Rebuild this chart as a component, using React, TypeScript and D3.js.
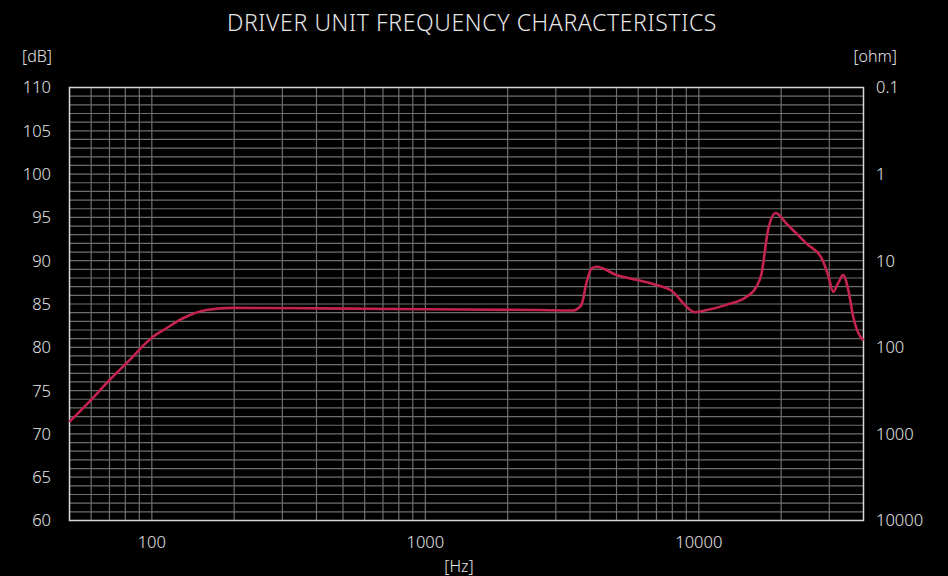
import React, { useEffect, useRef } from "react";
import * as d3 from "d3";

// frequency response (Hz, dB)
const freqs = [50, 59, 70, 81, 100, 113, 130, 158, 198, 410, 1000, 2600, 3470, 3720, 3880, 4050, 4230, 5000, 5900, 7000, 8050, 8760, 9670, 10700, 12600, 14900, 16250, 16950, 17900, 19100, 20900, 24700, 28100, 29700, 31000, 32300, 33700, 35200, 36700, 39400, 40000];
const levels = [71.4, 73.7, 76.2, 78.2, 81.1, 82.2, 83.35, 84.3, 84.55, 84.5, 84.4, 84.3, 84.25, 84.9, 87.4, 89.1, 89.3, 88.35, 87.8, 87.2, 86.4, 85.1, 84.05, 84.3, 84.9, 85.8, 87.0, 88.5, 93.5, 95.5, 94.3, 92.0, 90.3, 88.35, 86.4, 87.4, 88.35, 86.6, 83.5, 81.0, 80.8];

const dbTicks = [60, 65, 70, 75, 80, 85, 90, 95, 100, 105, 110];
const ohmTicks = [0.1, 1, 10, 100, 1000, 10000];
const hzTicks = [100, 1000, 10000];
const title = "DRIVER UNIT FREQUENCY CHARACTERISTICS";

const W = 948, H = 576;
const margin = { top: 87.5, right: 84.5, bottom: 55.5, left: 69.5 };
const font = "'Noto Sans', 'Open Sans', sans-serif";

export default function App() {
  const ref = useRef<SVGSVGElement>(null);

  useEffect(() => {
    const svg = d3.select(ref.current);
    svg.selectAll("*").remove();

    const x = d3.scaleLog().domain([50, 40000]).range([margin.left, W - margin.right]);
    const y = d3.scaleLinear().domain([60, 110]).range([H - margin.bottom, margin.top]);
    const yOhm = d3.scaleLog().domain([10000, 0.1]).range([H - margin.bottom, margin.top]);

    svg.append("rect").attr("width", W).attr("height", H).attr("fill", "#000");

    // grid
    const grid = svg.append("g").attr("stroke", "#6e6e6e").attr("stroke-width", 1.2);
    const vLines: number[] = [];
    for (let dec = 10; dec <= 10000; dec *= 10) {
      for (let m = 1; m <= 9; m++) {
        const f = dec * m;
        if (f > 50 && f < 40000) vLines.push(f);
      }
    }
    grid.selectAll("line.v").data(vLines).join("line")
      .attr("x1", d => x(d)).attr("x2", d => x(d))
      .attr("y1", margin.top).attr("y2", H - margin.bottom);
    grid.selectAll("line.h").data(d3.range(61, 110)).join("line")
      .attr("y1", d => y(d)).attr("y2", d => y(d))
      .attr("x1", margin.left).attr("x2", W - margin.right);

    // frame
    svg.append("rect")
      .attr("x", margin.left).attr("y", margin.top)
      .attr("width", W - margin.left - margin.right)
      .attr("height", H - margin.top - margin.bottom)
      .attr("fill", "none").attr("stroke", "#d8d8d8").attr("stroke-width", 1.5);

    // curve
    const line = d3.line<number>()
      .x((_, i) => x(freqs[i]))
      .y(d => y(d))
      .curve(d3.curveMonotoneX);
    svg.append("path")
      .datum(levels)
      .attr("d", line)
      .attr("fill", "none")
      .attr("stroke", "#c4234f")
      .attr("stroke-width", 2.6)
      .attr("stroke-linejoin", "round");

    const txt = svg.append("g").attr("fill", "#e6e6e6").attr("font-family", font).attr("font-weight", 300);

    txt.selectAll("text.db").data(dbTicks).join("text")
      .attr("x", 51).attr("y", d => y(d)).attr("dy", "0.36em")
      .attr("text-anchor", "end").attr("font-size", 16.5)
      .text(d => d);

    txt.selectAll("text.ohm").data(ohmTicks).join("text")
      .attr("x", 876).attr("y", d => yOhm(d)).attr("dy", "0.36em")
      .attr("font-size", 16.5)
      .text(d => String(d));

    txt.selectAll("text.hz").data(hzTicks).join("text")
      .attr("x", d => x(d)).attr("y", 548)
      .attr("text-anchor", "middle").attr("font-size", 16.5)
      .text(d => d);

    txt.append("text").attr("x", 22).attr("y", 62).attr("font-size", 16).text("[dB]");
    txt.append("text").attr("x", 897).attr("y", 62).attr("text-anchor", "end").attr("font-size", 16).text("[ohm]");
    txt.append("text").attr("x", 459).attr("y", 572).attr("text-anchor", "middle").attr("font-size", 16).text("[Hz]");

    txt.append("text").attr("x", 472).attr("y", 31).attr("text-anchor", "middle")
      .attr("font-size", 23).attr("letter-spacing", 0.6).text(title);
  }, []);

  return (
    <svg
      ref={ref}
      width={W}
      height={H}
      style={{ display: "block", position: "fixed", top: 0, left: 0 }}
    />
  );
}
